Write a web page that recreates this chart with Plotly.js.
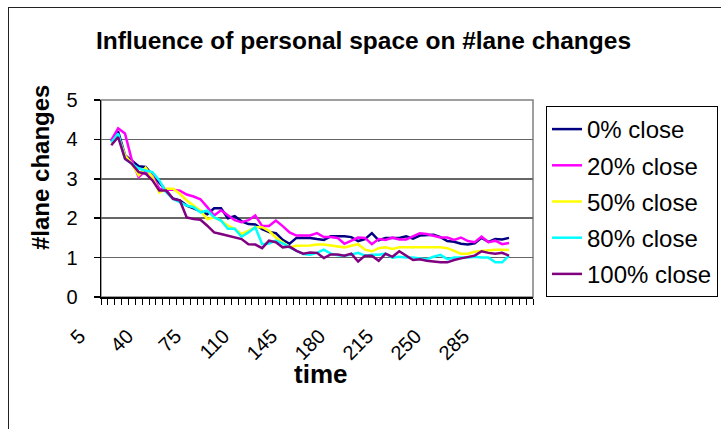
<!DOCTYPE html>
<html>
<head>
<meta charset="utf-8">
<script src="https://cdn.plot.ly/plotly-3.0.1.min.js"></script>
<style>
  html, body { margin: 0; padding: 0; background: #fff; overflow: hidden; }
  #chart { position: absolute; left: 0; top: 0; width: 721px; height: 429px; }
  #frame { position: absolute; left: 8px; top: 7px; width: 800px; height: 600px;
           border-left: 1px solid #222; border-top: 1px solid #222; pointer-events: none; }
</style>
</head>
<body>
<div id="chart"></div>
<div id="frame"></div>
<script>
// Category axis (time), ticks every category, labels every 7th
const categories = ["5","10","15","20","25","30","35","40","45","50","55","60","65","70","75","80","85","90","95","100",
  "105","110","115","120","125","130","135","140","145","150","155","160","165","170","175","180","185","190","195","200",
  "205","210","215","220","225","230","235","240","245","250","255","260","265","270","275","280","285","290","295","300",
  "305","310","315"];
const shownLabels = ["5","40","75","110","145","180","215","250","285"];

// Times that carry data
const times = ["10","15","20","25","30","35","40","45","50","55","60","65","70","75","80","85","90","95","100",
  "105","110","115","120","125","130","135","140","145","150","155","160","165","170","175","180","185","190","195","200",
  "205","210","215","220","225","230","235","240","245","250","255","260","265","270","275","280","285","290","295","300"];

const close0 = [3.95,4.2,3.6,3.45,3.32,3.3,3.1,2.9,2.72,2.5,2.45,2.32,2.25,2.18,2.1,2.25,2.25,2.0,2.05,1.92,
  1.85,1.84,1.72,1.65,1.62,1.45,1.35,1.5,1.5,1.5,1.47,1.45,1.54,1.54,1.54,1.52,1.42,1.47,1.62,1.44,
  1.5,1.5,1.5,1.54,1.48,1.56,1.57,1.58,1.52,1.42,1.4,1.35,1.33,1.36,1.5,1.4,1.47,1.46,1.5];
const close20 = [3.98,4.28,4.15,3.47,3.04,3.2,3.08,2.75,2.72,2.72,2.7,2.6,2.55,2.48,2.28,2.07,2.2,2.07,1.95,1.9,
  1.95,2.07,1.8,1.8,1.94,1.8,1.64,1.56,1.56,1.56,1.62,1.52,1.52,1.5,1.35,1.44,1.51,1.5,1.34,1.47,
  1.45,1.51,1.46,1.46,1.53,1.62,1.6,1.56,1.51,1.51,1.45,1.51,1.42,1.39,1.53,1.39,1.43,1.34,1.37];
const close50 = [3.9,4.1,3.6,3.38,3.09,3.28,3.04,2.65,2.75,2.75,2.62,2.45,2.32,2.19,1.98,2.02,1.94,1.81,1.73,1.6,
  1.68,1.77,1.77,1.68,1.51,1.39,1.26,1.3,1.3,1.31,1.33,1.33,1.31,1.28,1.26,1.3,1.34,1.2,1.16,1.24,
  1.26,1.22,1.26,1.26,1.26,1.26,1.26,1.26,1.26,1.24,1.17,1.1,1.1,1.15,1.17,1.19,1.2,1.2,1.19];
const close80 = [3.92,4.15,3.5,3.38,3.26,3.21,3.17,2.96,2.66,2.49,2.41,2.32,2.28,2.15,2.19,2.02,1.94,1.73,1.73,1.53,
  1.64,1.77,1.34,1.36,1.43,1.36,1.26,1.17,1.09,1.07,1.12,1.2,1.1,1.06,1.05,1.08,1.12,1.05,1.07,1.07,
  1.1,1.0,1.02,1.0,1.0,0.98,0.96,1.02,1.07,0.96,1.0,1.0,1.0,1.02,1.0,1.0,0.88,0.88,1.05];
const close100 = [3.85,4.06,3.51,3.38,3.17,3.13,2.96,2.7,2.7,2.49,2.45,2.02,1.98,1.96,1.81,1.64,1.6,1.56,1.51,1.47,
  1.34,1.33,1.24,1.43,1.39,1.26,1.28,1.17,1.1,1.13,1.12,0.99,1.08,1.08,1.05,1.1,0.9,1.05,1.05,0.92,
  1.1,1.02,1.16,1.05,0.94,0.96,0.92,0.9,0.88,0.88,0.94,0.98,1.02,1.05,1.16,1.12,1.1,1.12,1.05];

const seriesNames = ["0% close","20% close","50% close","80% close","100% close"];
const seriesValues = [close0, close20, close50, close80, close100];
const seriesColors = ["#000080","#FF00FF","#FFFF00","#00FFFF","#800080"];

const traces = seriesValues.map((vals, k) => ({
  type: "scatter", mode: "lines", name: seriesNames[k],
  x: times, y: vals, legendgroup: "g" + k,
  line: { color: seriesColors[k], width: 2.5 }
}));

const font = "Liberation Sans, Arial, sans-serif";
const tickText = categories.map(c => shownLabels.includes(c) ? c : "");

const layout = {
  width: 721, height: 429,
  margin: { l: 101, r: 188, t: 100, b: 132, autoexpand: false },
  paper_bgcolor: "#fff", plot_bgcolor: "#fff",
  font: { family: font, color: "#000" },
  title: { text: "<b>Influence of personal space on #lane changes</b>", font: { size: 24.5, family: font, color: "#000" },
           xref: "container", x: 363.5 / 721, xanchor: "center", yref: "container", y: 1 - 40/429, yanchor: "middle" },
  xaxis: {
    type: "category", categoryorder: "array", categoryarray: categories,
    range: [-0.5, categories.length - 0.5],
    tickmode: "array", tickvals: categories, ticktext: tickText, tickson: "boundaries",
    ticks: "outside", ticklen: 6, tickcolor: "#000", tickwidth: 1,
    tickangle: -45, tickfont: { size: 20, family: font, color: "#000" },
    showgrid: false, showline: true, linecolor: "#000", linewidth: 1.5, zeroline: false,
    ticklabelstandoff: 18, ticklabelshift: -25, automargin: false
  },
  yaxis: {
    range: [0, 5], tickmode: "linear", tick0: 0, dtick: 1,
    ticks: "outside", ticklen: 6, tickcolor: "#000", tickwidth: 1.5,
    tickfont: { size: 20, family: font, color: "#000" },
    showgrid: true, gridcolor: "#666", gridwidth: 1.6,
    showline: true, linecolor: "#000", linewidth: 1.5, zeroline: false,
    ticklabelstandoff: 12, automargin: false
  },
  showlegend: true,
  legend: {
    x: (546 - 101) / 432, y: (297 - 106) / 197, xanchor: "left", yanchor: "top",
    bordercolor: "#000", borderwidth: 1, bgcolor: "#fff",
    font: { size: 24, family: font, color: "#000" },
    traceorder: "grouped", tracegroupgap: 2, itemwidth: 30
  },
  shapes: [{ type: "rect", xref: "paper", yref: "paper", x0: 0, x1: 1, y0: 0, y1: 1,
             line: { color: "#808080", width: 1.5 }, layer: "below" }],
  annotations: [
    { text: "<b>#lane changes</b>", textangle: -90, xref: "paper", yref: "paper",
      x: (40 - 101) / 432, y: (297 - 168) / 197, xanchor: "center", yanchor: "middle",
      showarrow: false, font: { size: 24, family: font, color: "#000" } },
    { text: "<b>time</b>", xref: "paper", yref: "paper",
      x: (320 - 101) / 432, y: (297 - 374) / 197, xanchor: "center", yanchor: "middle",
      showarrow: false, font: { size: 26, family: font, color: "#000" } }
  ]
};

Plotly.newPlot("chart", traces, layout, { displayModeBar: false, staticPlot: true });
</script>
</body>
</html>
